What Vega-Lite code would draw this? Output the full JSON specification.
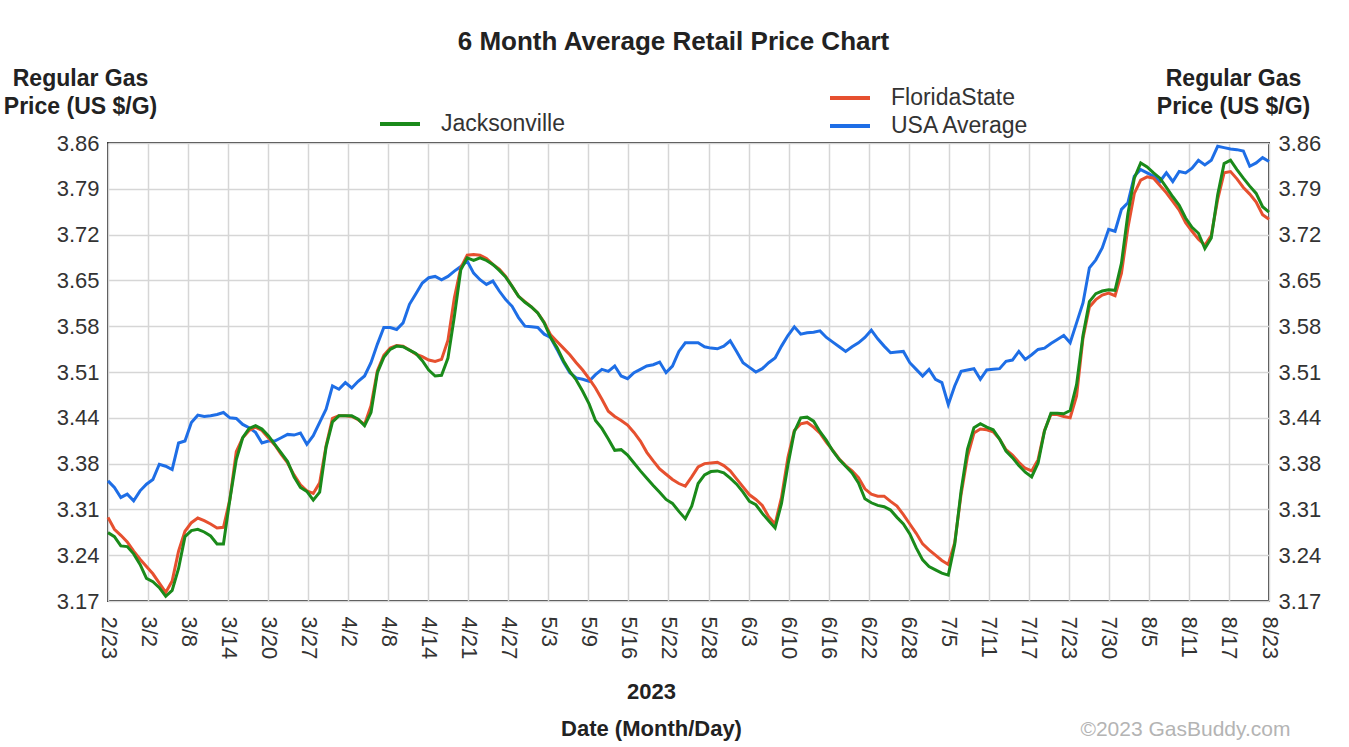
{
"$schema":"https://vega.github.io/schema/vega-lite/v6.json",
"width":1161,"height":458,
"autosize":{"type":"none"},
"padding":{"left":108,"top":143,"right":80,"bottom":146},
"background":"white",
"config":{
 "font":"Liberation Sans",
 "view":{"stroke":"#3a3a3a","strokeWidth":2},
 "axis":{"domain":false,"ticks":false,"grid":false,"labelFont":"Liberation Sans","titleFont":"Liberation Sans","labelColor":"#333","titleColor":"#222","gridColor":"#d6d6d6","gridWidth":1.5},
 "legend":{"labelFont":"Liberation Sans"}
},
"data":{"values":[
{"date":"2023-02-23","Jacksonville":3.273,"FloridaState":3.296,"USA Average":3.351},
{"date":"2023-02-24","Jacksonville":3.267,"FloridaState":3.278,"USA Average":3.341},
{"date":"2023-02-25","Jacksonville":3.253,"FloridaState":3.269,"USA Average":3.326},
{"date":"2023-02-26","Jacksonville":3.252,"FloridaState":3.259,"USA Average":3.331},
{"date":"2023-02-27","Jacksonville":3.241,"FloridaState":3.245,"USA Average":3.321},
{"date":"2023-02-28","Jacksonville":3.225,"FloridaState":3.233,"USA Average":3.336},
{"date":"2023-03-01","Jacksonville":3.204,"FloridaState":3.222,"USA Average":3.346},
{"date":"2023-03-02","Jacksonville":3.199,"FloridaState":3.211,"USA Average":3.353},
{"date":"2023-03-03","Jacksonville":3.190,"FloridaState":3.197,"USA Average":3.376},
{"date":"2023-03-04","Jacksonville":3.177,"FloridaState":3.183,"USA Average":3.373},
{"date":"2023-03-05","Jacksonville":3.186,"FloridaState":3.200,"USA Average":3.368},
{"date":"2023-03-06","Jacksonville":3.219,"FloridaState":3.245,"USA Average":3.408},
{"date":"2023-03-07","Jacksonville":3.267,"FloridaState":3.275,"USA Average":3.411},
{"date":"2023-03-08","Jacksonville":3.276,"FloridaState":3.288,"USA Average":3.439},
{"date":"2023-03-09","Jacksonville":3.278,"FloridaState":3.295,"USA Average":3.450},
{"date":"2023-03-10","Jacksonville":3.274,"FloridaState":3.291,"USA Average":3.448},
{"date":"2023-03-11","Jacksonville":3.268,"FloridaState":3.286,"USA Average":3.449},
{"date":"2023-03-12","Jacksonville":3.256,"FloridaState":3.280,"USA Average":3.451},
{"date":"2023-03-13","Jacksonville":3.256,"FloridaState":3.281,"USA Average":3.454},
{"date":"2023-03-14","Jacksonville":3.323,"FloridaState":3.323,"USA Average":3.446},
{"date":"2023-03-15","Jacksonville":3.383,"FloridaState":3.395,"USA Average":3.445},
{"date":"2023-03-16","Jacksonville":3.416,"FloridaState":3.416,"USA Average":3.436},
{"date":"2023-03-17","Jacksonville":3.430,"FloridaState":3.427,"USA Average":3.431},
{"date":"2023-03-18","Jacksonville":3.434,"FloridaState":3.432,"USA Average":3.424},
{"date":"2023-03-19","Jacksonville":3.429,"FloridaState":3.427,"USA Average":3.408},
{"date":"2023-03-20","Jacksonville":3.419,"FloridaState":3.416,"USA Average":3.411},
{"date":"2023-03-21","Jacksonville":3.406,"FloridaState":3.405,"USA Average":3.411},
{"date":"2023-03-22","Jacksonville":3.393,"FloridaState":3.391,"USA Average":3.416},
{"date":"2023-03-23","Jacksonville":3.380,"FloridaState":3.378,"USA Average":3.421},
{"date":"2023-03-24","Jacksonville":3.357,"FloridaState":3.360,"USA Average":3.420},
{"date":"2023-03-25","Jacksonville":3.341,"FloridaState":3.345,"USA Average":3.423},
{"date":"2023-03-26","Jacksonville":3.335,"FloridaState":3.336,"USA Average":3.406},
{"date":"2023-03-27","Jacksonville":3.322,"FloridaState":3.332,"USA Average":3.419},
{"date":"2023-03-28","Jacksonville":3.334,"FloridaState":3.348,"USA Average":3.439},
{"date":"2023-03-29","Jacksonville":3.402,"FloridaState":3.404,"USA Average":3.459},
{"date":"2023-03-30","Jacksonville":3.440,"FloridaState":3.445,"USA Average":3.494},
{"date":"2023-03-31","Jacksonville":3.449,"FloridaState":3.449,"USA Average":3.489},
{"date":"2023-04-01","Jacksonville":3.449,"FloridaState":3.449,"USA Average":3.499},
{"date":"2023-04-02","Jacksonville":3.449,"FloridaState":3.448,"USA Average":3.491},
{"date":"2023-04-03","Jacksonville":3.444,"FloridaState":3.443,"USA Average":3.501},
{"date":"2023-04-04","Jacksonville":3.434,"FloridaState":3.436,"USA Average":3.509},
{"date":"2023-04-05","Jacksonville":3.454,"FloridaState":3.464,"USA Average":3.529},
{"date":"2023-04-06","Jacksonville":3.514,"FloridaState":3.517,"USA Average":3.557},
{"date":"2023-04-07","Jacksonville":3.537,"FloridaState":3.540,"USA Average":3.582},
{"date":"2023-04-08","Jacksonville":3.549,"FloridaState":3.551,"USA Average":3.582},
{"date":"2023-04-09","Jacksonville":3.554,"FloridaState":3.555,"USA Average":3.579},
{"date":"2023-04-10","Jacksonville":3.553,"FloridaState":3.554,"USA Average":3.589},
{"date":"2023-04-11","Jacksonville":3.548,"FloridaState":3.548,"USA Average":3.617},
{"date":"2023-04-12","Jacksonville":3.543,"FloridaState":3.542,"USA Average":3.633},
{"date":"2023-04-13","Jacksonville":3.532,"FloridaState":3.538,"USA Average":3.649},
{"date":"2023-04-14","Jacksonville":3.518,"FloridaState":3.533,"USA Average":3.657},
{"date":"2023-04-15","Jacksonville":3.509,"FloridaState":3.531,"USA Average":3.659},
{"date":"2023-04-16","Jacksonville":3.510,"FloridaState":3.534,"USA Average":3.654},
{"date":"2023-04-17","Jacksonville":3.536,"FloridaState":3.563,"USA Average":3.659},
{"date":"2023-04-18","Jacksonville":3.599,"FloridaState":3.627,"USA Average":3.667},
{"date":"2023-04-19","Jacksonville":3.669,"FloridaState":3.672,"USA Average":3.674},
{"date":"2023-04-20","Jacksonville":3.687,"FloridaState":3.691,"USA Average":3.682},
{"date":"2023-04-21","Jacksonville":3.683,"FloridaState":3.692,"USA Average":3.664},
{"date":"2023-04-22","Jacksonville":3.687,"FloridaState":3.691,"USA Average":3.654},
{"date":"2023-04-23","Jacksonville":3.683,"FloridaState":3.686,"USA Average":3.647},
{"date":"2023-04-24","Jacksonville":3.677,"FloridaState":3.677,"USA Average":3.652},
{"date":"2023-04-25","Jacksonville":3.668,"FloridaState":3.670,"USA Average":3.637},
{"date":"2023-04-26","Jacksonville":3.658,"FloridaState":3.659,"USA Average":3.624},
{"date":"2023-04-27","Jacksonville":3.644,"FloridaState":3.644,"USA Average":3.614},
{"date":"2023-04-28","Jacksonville":3.629,"FloridaState":3.629,"USA Average":3.597},
{"date":"2023-04-29","Jacksonville":3.620,"FloridaState":3.621,"USA Average":3.584},
{"date":"2023-04-30","Jacksonville":3.613,"FloridaState":3.613,"USA Average":3.583},
{"date":"2023-05-01","Jacksonville":3.604,"FloridaState":3.604,"USA Average":3.582},
{"date":"2023-05-02","Jacksonville":3.589,"FloridaState":3.590,"USA Average":3.572},
{"date":"2023-05-03","Jacksonville":3.567,"FloridaState":3.571,"USA Average":3.567},
{"date":"2023-05-04","Jacksonville":3.552,"FloridaState":3.561,"USA Average":3.549},
{"date":"2023-05-05","Jacksonville":3.532,"FloridaState":3.551,"USA Average":3.530},
{"date":"2023-05-06","Jacksonville":3.516,"FloridaState":3.541,"USA Average":3.514},
{"date":"2023-05-07","Jacksonville":3.503,"FloridaState":3.529,"USA Average":3.506},
{"date":"2023-05-08","Jacksonville":3.486,"FloridaState":3.518,"USA Average":3.504},
{"date":"2023-05-09","Jacksonville":3.467,"FloridaState":3.505,"USA Average":3.501},
{"date":"2023-05-10","Jacksonville":3.442,"FloridaState":3.491,"USA Average":3.511},
{"date":"2023-05-11","Jacksonville":3.430,"FloridaState":3.474,"USA Average":3.519},
{"date":"2023-05-12","Jacksonville":3.414,"FloridaState":3.456,"USA Average":3.516},
{"date":"2023-05-13","Jacksonville":3.397,"FloridaState":3.448,"USA Average":3.524},
{"date":"2023-05-14","Jacksonville":3.398,"FloridaState":3.442,"USA Average":3.509},
{"date":"2023-05-15","Jacksonville":3.390,"FloridaState":3.435,"USA Average":3.505},
{"date":"2023-05-16","Jacksonville":3.378,"FloridaState":3.424,"USA Average":3.514},
{"date":"2023-05-17","Jacksonville":3.366,"FloridaState":3.411,"USA Average":3.519},
{"date":"2023-05-18","Jacksonville":3.355,"FloridaState":3.394,"USA Average":3.524},
{"date":"2023-05-19","Jacksonville":3.344,"FloridaState":3.381,"USA Average":3.526},
{"date":"2023-05-20","Jacksonville":3.334,"FloridaState":3.369,"USA Average":3.530},
{"date":"2023-05-21","Jacksonville":3.323,"FloridaState":3.361,"USA Average":3.514},
{"date":"2023-05-22","Jacksonville":3.317,"FloridaState":3.353,"USA Average":3.524},
{"date":"2023-05-23","Jacksonville":3.305,"FloridaState":3.347,"USA Average":3.546},
{"date":"2023-05-24","Jacksonville":3.294,"FloridaState":3.343,"USA Average":3.559},
{"date":"2023-05-25","Jacksonville":3.313,"FloridaState":3.357,"USA Average":3.559},
{"date":"2023-05-26","Jacksonville":3.347,"FloridaState":3.372,"USA Average":3.559},
{"date":"2023-05-27","Jacksonville":3.360,"FloridaState":3.377,"USA Average":3.553},
{"date":"2023-05-28","Jacksonville":3.365,"FloridaState":3.378,"USA Average":3.551},
{"date":"2023-05-29","Jacksonville":3.366,"FloridaState":3.379,"USA Average":3.550},
{"date":"2023-05-30","Jacksonville":3.363,"FloridaState":3.374,"USA Average":3.554},
{"date":"2023-05-31","Jacksonville":3.355,"FloridaState":3.366,"USA Average":3.562},
{"date":"2023-06-01","Jacksonville":3.346,"FloridaState":3.354,"USA Average":3.546},
{"date":"2023-06-02","Jacksonville":3.334,"FloridaState":3.342,"USA Average":3.529},
{"date":"2023-06-03","Jacksonville":3.320,"FloridaState":3.330,"USA Average":3.522},
{"date":"2023-06-04","Jacksonville":3.315,"FloridaState":3.323,"USA Average":3.515},
{"date":"2023-06-05","Jacksonville":3.302,"FloridaState":3.314,"USA Average":3.520},
{"date":"2023-06-06","Jacksonville":3.291,"FloridaState":3.297,"USA Average":3.529},
{"date":"2023-06-07","Jacksonville":3.280,"FloridaState":3.286,"USA Average":3.536},
{"date":"2023-06-08","Jacksonville":3.317,"FloridaState":3.326,"USA Average":3.554},
{"date":"2023-06-09","Jacksonville":3.375,"FloridaState":3.386,"USA Average":3.570},
{"date":"2023-06-10","Jacksonville":3.425,"FloridaState":3.427,"USA Average":3.583},
{"date":"2023-06-11","Jacksonville":3.446,"FloridaState":3.437,"USA Average":3.572},
{"date":"2023-06-12","Jacksonville":3.447,"FloridaState":3.439,"USA Average":3.574},
{"date":"2023-06-13","Jacksonville":3.441,"FloridaState":3.432,"USA Average":3.575},
{"date":"2023-06-14","Jacksonville":3.425,"FloridaState":3.423,"USA Average":3.577},
{"date":"2023-06-15","Jacksonville":3.412,"FloridaState":3.409,"USA Average":3.567},
{"date":"2023-06-16","Jacksonville":3.396,"FloridaState":3.397,"USA Average":3.560},
{"date":"2023-06-17","Jacksonville":3.383,"FloridaState":3.384,"USA Average":3.553},
{"date":"2023-06-18","Jacksonville":3.373,"FloridaState":3.374,"USA Average":3.546},
{"date":"2023-06-19","Jacksonville":3.363,"FloridaState":3.366,"USA Average":3.553},
{"date":"2023-06-20","Jacksonville":3.348,"FloridaState":3.356,"USA Average":3.559},
{"date":"2023-06-21","Jacksonville":3.324,"FloridaState":3.339,"USA Average":3.567},
{"date":"2023-06-22","Jacksonville":3.318,"FloridaState":3.331,"USA Average":3.578},
{"date":"2023-06-23","Jacksonville":3.314,"FloridaState":3.328,"USA Average":3.565},
{"date":"2023-06-24","Jacksonville":3.312,"FloridaState":3.328,"USA Average":3.554},
{"date":"2023-06-25","Jacksonville":3.307,"FloridaState":3.320,"USA Average":3.544},
{"date":"2023-06-26","Jacksonville":3.296,"FloridaState":3.313,"USA Average":3.545},
{"date":"2023-06-27","Jacksonville":3.286,"FloridaState":3.300,"USA Average":3.546},
{"date":"2023-06-28","Jacksonville":3.271,"FloridaState":3.286,"USA Average":3.529},
{"date":"2023-06-29","Jacksonville":3.250,"FloridaState":3.272,"USA Average":3.519},
{"date":"2023-06-30","Jacksonville":3.232,"FloridaState":3.256,"USA Average":3.509},
{"date":"2023-07-01","Jacksonville":3.222,"FloridaState":3.247,"USA Average":3.519},
{"date":"2023-07-02","Jacksonville":3.217,"FloridaState":3.239,"USA Average":3.504},
{"date":"2023-07-03","Jacksonville":3.212,"FloridaState":3.231,"USA Average":3.499},
{"date":"2023-07-04","Jacksonville":3.209,"FloridaState":3.225,"USA Average":3.466},
{"date":"2023-07-05","Jacksonville":3.255,"FloridaState":3.258,"USA Average":3.494},
{"date":"2023-07-06","Jacksonville":3.336,"FloridaState":3.331,"USA Average":3.516},
{"date":"2023-07-07","Jacksonville":3.399,"FloridaState":3.388,"USA Average":3.518},
{"date":"2023-07-08","Jacksonville":3.431,"FloridaState":3.423,"USA Average":3.520},
{"date":"2023-07-09","Jacksonville":3.437,"FloridaState":3.429,"USA Average":3.504},
{"date":"2023-07-10","Jacksonville":3.432,"FloridaState":3.428,"USA Average":3.518},
{"date":"2023-07-11","Jacksonville":3.428,"FloridaState":3.425,"USA Average":3.519},
{"date":"2023-07-12","Jacksonville":3.414,"FloridaState":3.414,"USA Average":3.520},
{"date":"2023-07-13","Jacksonville":3.396,"FloridaState":3.398,"USA Average":3.531},
{"date":"2023-07-14","Jacksonville":3.386,"FloridaState":3.390,"USA Average":3.533},
{"date":"2023-07-15","Jacksonville":3.374,"FloridaState":3.379,"USA Average":3.546},
{"date":"2023-07-16","Jacksonville":3.364,"FloridaState":3.370,"USA Average":3.534},
{"date":"2023-07-17","Jacksonville":3.357,"FloridaState":3.366,"USA Average":3.541},
{"date":"2023-07-18","Jacksonville":3.378,"FloridaState":3.383,"USA Average":3.549},
{"date":"2023-07-19","Jacksonville":3.426,"FloridaState":3.427,"USA Average":3.551},
{"date":"2023-07-20","Jacksonville":3.453,"FloridaState":3.451,"USA Average":3.558},
{"date":"2023-07-21","Jacksonville":3.453,"FloridaState":3.451,"USA Average":3.564},
{"date":"2023-07-22","Jacksonville":3.452,"FloridaState":3.448,"USA Average":3.570},
{"date":"2023-07-23","Jacksonville":3.457,"FloridaState":3.446,"USA Average":3.559},
{"date":"2023-07-24","Jacksonville":3.496,"FloridaState":3.479,"USA Average":3.589},
{"date":"2023-07-25","Jacksonville":3.570,"FloridaState":3.566,"USA Average":3.619},
{"date":"2023-07-26","Jacksonville":3.621,"FloridaState":3.613,"USA Average":3.672},
{"date":"2023-07-27","Jacksonville":3.633,"FloridaState":3.624,"USA Average":3.684},
{"date":"2023-07-28","Jacksonville":3.637,"FloridaState":3.631,"USA Average":3.702},
{"date":"2023-07-29","Jacksonville":3.639,"FloridaState":3.634,"USA Average":3.730},
{"date":"2023-07-30","Jacksonville":3.638,"FloridaState":3.630,"USA Average":3.727},
{"date":"2023-07-31","Jacksonville":3.679,"FloridaState":3.664,"USA Average":3.760},
{"date":"2023-08-01","Jacksonville":3.753,"FloridaState":3.732,"USA Average":3.770},
{"date":"2023-08-02","Jacksonville":3.807,"FloridaState":3.784,"USA Average":3.810},
{"date":"2023-08-03","Jacksonville":3.830,"FloridaState":3.804,"USA Average":3.820},
{"date":"2023-08-04","Jacksonville":3.824,"FloridaState":3.809,"USA Average":3.815},
{"date":"2023-08-05","Jacksonville":3.815,"FloridaState":3.807,"USA Average":3.810},
{"date":"2023-08-06","Jacksonville":3.807,"FloridaState":3.796,"USA Average":3.802},
{"date":"2023-08-07","Jacksonville":3.793,"FloridaState":3.785,"USA Average":3.815},
{"date":"2023-08-08","Jacksonville":3.779,"FloridaState":3.772,"USA Average":3.802},
{"date":"2023-08-09","Jacksonville":3.766,"FloridaState":3.759,"USA Average":3.817},
{"date":"2023-08-10","Jacksonville":3.747,"FloridaState":3.740,"USA Average":3.815},
{"date":"2023-08-11","Jacksonville":3.733,"FloridaState":3.727,"USA Average":3.822},
{"date":"2023-08-12","Jacksonville":3.724,"FloridaState":3.715,"USA Average":3.834},
{"date":"2023-08-13","Jacksonville":3.701,"FloridaState":3.706,"USA Average":3.827},
{"date":"2023-08-14","Jacksonville":3.717,"FloridaState":3.721,"USA Average":3.834},
{"date":"2023-08-15","Jacksonville":3.782,"FloridaState":3.775,"USA Average":3.855},
{"date":"2023-08-16","Jacksonville":3.829,"FloridaState":3.815,"USA Average":3.853},
{"date":"2023-08-17","Jacksonville":3.834,"FloridaState":3.817,"USA Average":3.851},
{"date":"2023-08-18","Jacksonville":3.820,"FloridaState":3.806,"USA Average":3.850},
{"date":"2023-08-19","Jacksonville":3.807,"FloridaState":3.793,"USA Average":3.848},
{"date":"2023-08-20","Jacksonville":3.795,"FloridaState":3.783,"USA Average":3.825},
{"date":"2023-08-21","Jacksonville":3.784,"FloridaState":3.771,"USA Average":3.830},
{"date":"2023-08-22","Jacksonville":3.764,"FloridaState":3.752,"USA Average":3.838},
{"date":"2023-08-23","Jacksonville":3.756,"FloridaState":3.745,"USA Average":3.832}
]},
"transform":[{"fold":["Jacksonville","FloridaState","USA Average"],"as":["series","price"]}],
"layer":[
 {
  "transform":[{"filter":"datum.series === 'USA Average'"}],
  "mark":{"type":"line","strokeWidth":3,"interpolate":"linear"},
  "encoding":{
   "x":{"field":"date","type":"temporal","scale":{"type":"utc","domain":[1677110400000,1692748800000]},
        "axis":{"orient":"top","labels":false,"grid":false,"title":"6 Month Average Retail Price Chart","titleFontSize":26,"titleFontWeight":"bold","titleX":565,"titleY":-94,"titleAlign":"center","titleBaseline":"alphabetic","titleColor":"#222"}},
   "y":{"field":"price","type":"quantitative","scale":{"domain":[3.17,3.86],"zero":false,"nice":false},
        "axis":{"orient":"left","values":[3.17,3.239,3.308,3.377,3.446,3.515,3.584,3.653,3.722,3.791,3.86],
          "labelExpr":"['3.17','3.24','3.31','3.38','3.44','3.51','3.58','3.65','3.72','3.79','3.86'][round((datum.value-3.17)/0.069)]",
          "grid":true,"labelFontSize":22,"labelPadding":9,
          "title":["Regular Gas","Price (US $/G)"],"titleFontSize":23,"titleFontWeight":"bold","titleAngle":0,"titleX":-28,"titleY":-58,"titleAlign":"center","titleBaseline":"alphabetic","titleLineHeight":28}},
   "color":{"field":"series","type":"nominal","scale":{"domain":["FloridaState","USA Average"],"range":["#e6502f","#1e6ee6"]},
        "legend":{"orient":"none","legendX":730,"legendY":-57,"title":null,"symbolType":"M-2,0H2","symbolSize":400,"symbolStrokeWidth":4,"labelFontSize":23,"labelColor":"#333","labelOffset":29,"rowPadding":4,"padding":0}}
  }
 },
 {
  "transform":[{"filter":"datum.series === 'FloridaState'"}],
  "mark":{"type":"line","strokeWidth":3},
  "encoding":{
   "x":{"field":"date","type":"temporal","scale":{"type":"utc","domain":[1677110400000,1692748800000]},
        "axis":{"orient":"bottom","labels":false,"grid":false,"title":"©2023 GasBuddy.com","titleFontSize":21,"titleFontWeight":"normal","titleColor":"#b4b4b4","titleX":1182,"titleY":134,"titleAlign":"right","titleBaseline":"alphabetic"}},
   "y":{"field":"price","type":"quantitative","scale":{"domain":[3.17,3.86],"zero":false,"nice":false},
        "axis":{"orient":"right","values":[3.17,3.239,3.308,3.377,3.446,3.515,3.584,3.653,3.722,3.791,3.86],
          "labelExpr":"['3.17','3.24','3.31','3.38','3.44','3.51','3.58','3.65','3.72','3.79','3.86'][round((datum.value-3.17)/0.069)]",
          "grid":false,"labelFontSize":22,"labelPadding":9,
          "title":["Regular Gas","Price (US $/G)"],"titleFontSize":23,"titleFontWeight":"bold","titleAngle":0,"titleX":-36,"titleY":-58,"titleAlign":"center","titleBaseline":"alphabetic","titleLineHeight":28}},
   "color":{"field":"series","type":"nominal","scale":{"domain":["FloridaState","USA Average"],"range":["#e6502f","#1e6ee6"]},
        "legend":{"orient":"none","legendX":730,"legendY":-57,"title":null,"symbolType":"M-2,0H2","symbolSize":400,"symbolStrokeWidth":4,"labelFontSize":23,"labelColor":"#333","labelOffset":29,"rowPadding":4,"padding":0}}
  }
 },
 {
  "transform":[{"filter":"datum.series === 'Jacksonville'"}],
  "mark":{"type":"line","strokeWidth":3},
  "encoding":{
   "x":{"field":"date","type":"temporal","scale":{"type":"utc","domain":[1677110400000,1692748800000]},
        "axis":{"orient":"bottom","grid":true,
          "values":[1677110400000,1677649655172,1678188910345,1678728165517,1679267420690,1679806675862,1680345931034,1680885186207,1681424441379,1681963696552,1682502951724,1683042206897,1683581462069,1684120717241,1684659972414,1685199227586,1685738482759,1686277737931,1686816993103,1687356248276,1687895503448,1688434758621,1688974013793,1689513268966,1690052524138,1690591779310,1691131034483,1691670289655,1692209544828,1692748800000],
          "labelExpr":"['2/23','3/2','3/8','3/14','3/20','3/27','4/2','4/8','4/14','4/21','4/27','5/3','5/9','5/16','5/22','5/28','6/3','6/10','6/16','6/22','6/28','7/5','7/11','7/17','7/23','7/30','8/5','8/11','8/17','8/23'][round((datum.value-1677110400000)/539255172.4138)]",
          "labelAngle":90,"labelAlign":"left","labelBaseline":"middle","labelFontSize":22,"labelPadding":15,"labelFlush":false,"labelOverlap":false,"labelBound":false,
          "title":["2023","Date (Month/Day)"],"titleFontSize":22,"titleFontWeight":"bold","titleX":543,"titleY":97,"titleAlign":"center","titleBaseline":"alphabetic","titleLineHeight":37}},
   "y":{"field":"price","type":"quantitative","scale":{"domain":[3.17,3.86],"zero":false,"nice":false},"axis":null},
   "stroke":{"field":"series","type":"nominal","scale":{"domain":["Jacksonville"],"range":["#1a8a1a"]},
        "legend":{"orient":"none","legendX":280,"legendY":-31,"title":null,"symbolType":"M-2,0H2","symbolSize":400,"symbolStrokeWidth":4,"labelFontSize":23,"labelColor":"#333","labelOffset":29,"padding":0}}
  }
 }
],
"resolve":{"axis":{"x":"independent","y":"independent"}}
}
